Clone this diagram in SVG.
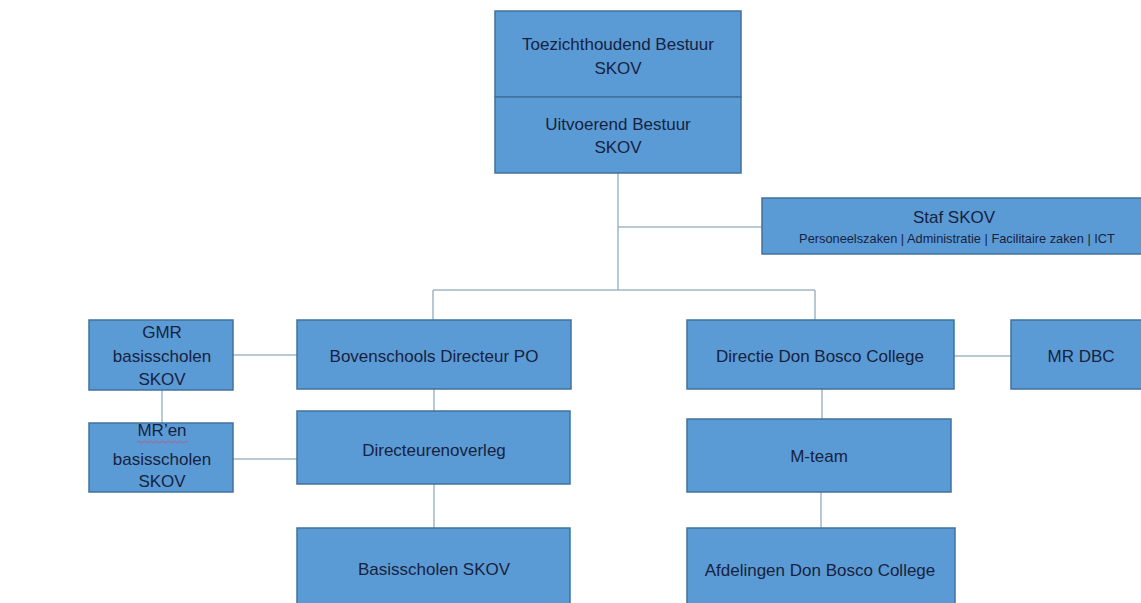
<svg xmlns="http://www.w3.org/2000/svg" width="1141" height="603" viewBox="0 0 1141 603">
<style>
.box{fill:#5B9BD5;stroke:#41719C;stroke-width:1.5}
.t{font-family:"Liberation Sans",Arial,sans-serif;font-size:17px;fill:#172240;text-anchor:middle}
.s{font-size:12.8px}
.c{stroke:#A3B7C8;stroke-width:1.5;fill:none}
</style>
<rect width="1141" height="603" fill="#fff"/>
<g id="connectors">
<path class="c" d="M618 173V290M618 227H762M433 290H815M433 290V320M815 290V320"/>
<path class="c" d="M233 355H297M162 390V423M233 459H297M434 389V411M434 484V528"/>
<path class="c" d="M954 356H1011M822 389V419M821 492V528"/>
</g>
<g id="toezicht">
<rect class="box" x="495" y="11" width="246" height="86"/>
<text class="t" x="618" y="50">Toezichthoudend Bestuur</text>
<text class="t" x="618" y="74">SKOV</text>
</g>
<g id="uitvoerend">
<rect class="box" x="495" y="97" width="246" height="76"/>
<text class="t" x="618" y="130">Uitvoerend Bestuur</text>
<text class="t" x="618" y="153">SKOV</text>
</g>
<g id="staf">
<rect class="box" x="762" y="198" width="385" height="56"/>
<text class="t" x="954" y="223">Staf SKOV</text>
<text class="t s" x="957" y="243">Personeelszaken | Administratie | Facilitaire zaken | ICT</text>
</g>
<g id="gmr">
<rect class="box" x="89" y="320" width="144" height="70"/>
<text class="t" x="162" y="338">GMR</text>
<text class="t" x="162" y="362">basisscholen</text>
<text class="t" x="162" y="385">SKOV</text>
</g>
<g id="mren">
<rect class="box" x="89" y="423" width="144" height="69"/>
<text class="t" x="162" y="436">MR’en</text>
<path d="M137 442q1.5-1.6 3 0t3 0 3 0 3 0 3 0 3 0 3 0 3 0 3 0 3 0 3 0 3 0 3 0 3 0 3 0 3 0 3 0" stroke="#D04A6A" stroke-width="0.8" fill="none"/>
<text class="t" x="162" y="465">basisscholen</text>
<text class="t" x="162" y="487">SKOV</text>
</g>
<g id="bovenschools">
<rect class="box" x="297" y="320" width="274" height="69"/>
<text class="t" x="434" y="362">Bovenschools Directeur PO</text>
</g>
<g id="directeurenoverleg">
<rect class="box" x="297" y="411" width="273" height="73"/>
<text class="t" x="434" y="456">Directeurenoverleg</text>
</g>
<g id="basisscholen">
<rect class="box" x="297" y="528" width="273" height="80"/>
<text class="t" x="434" y="575">Basisscholen SKOV</text>
</g>
<g id="directie">
<rect class="box" x="687" y="320" width="267" height="69"/>
<text class="t" x="820" y="362">Directie Don Bosco College</text>
</g>
<g id="mrdbc">
<rect class="box" x="1011" y="320" width="136" height="69"/>
<text class="t" x="1081" y="362">MR DBC</text>
</g>
<g id="mteam">
<rect class="box" x="687" y="419" width="264" height="73"/>
<text class="t" x="819" y="462">M-team</text>
</g>
<g id="afdelingen">
<rect class="box" x="687" y="528" width="268" height="80"/>
<text class="t" x="820" y="576">Afdelingen Don Bosco College</text>
</g>
</svg>
